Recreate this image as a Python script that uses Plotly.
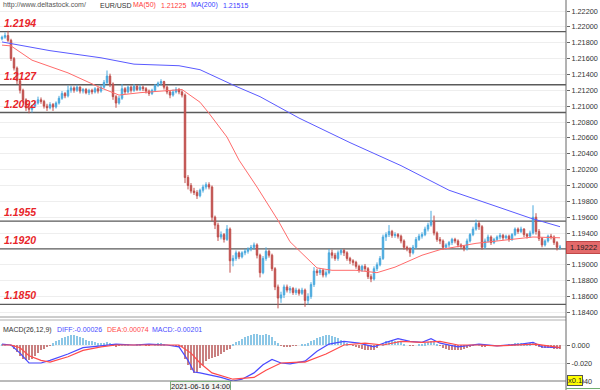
import plotly.graph_objects as go

# ---------------- data ----------------
first_open = 1.2185
closes = [
    1.2187, 1.2189, 1.2183, 1.2160, 1.2148, 1.2132, 1.2120, 1.2108, 1.2098, 1.2096,
    1.2100, 1.2104, 1.2108, 1.2106, 1.2100, 1.2098, 1.2102, 1.2099, 1.2104, 1.2110,
    1.2116, 1.2113, 1.2120, 1.2123, 1.2120, 1.2124, 1.2119, 1.2121, 1.2117, 1.2120,
    1.2118, 1.2122, 1.2119, 1.2124, 1.2130, 1.2138, 1.2128, 1.2112, 1.2104, 1.2110,
    1.2122, 1.2118, 1.2124, 1.2120, 1.2125, 1.2121, 1.2124, 1.2122, 1.2119, 1.2116,
    1.2120, 1.2126, 1.2129, 1.2131, 1.2124, 1.2118, 1.2114, 1.2118, 1.2121, 1.2118,
    1.2114, 1.2010, 1.2000, 1.1993, 1.1991, 1.1987, 1.1994, 1.1998, 1.2001, 1.1998,
    1.1960, 1.1950, 1.1935, 1.1938, 1.1932, 1.1945, 1.1905, 1.1908, 1.1915, 1.1910,
    1.1915, 1.1917, 1.1920, 1.1922, 1.1925, 1.1912, 1.1890, 1.1908, 1.1917, 1.1912,
    1.1895, 1.1872, 1.1858, 1.1862, 1.1872, 1.1868, 1.1870, 1.1865, 1.1868, 1.1864,
    1.1868, 1.1855, 1.1860, 1.1875, 1.1892, 1.1890, 1.1893, 1.1887, 1.1890, 1.1915,
    1.1912, 1.1908, 1.1915, 1.1918, 1.1915, 1.1908, 1.1905, 1.1903, 1.1898, 1.1893,
    1.1898, 1.1895, 1.1885, 1.1882, 1.1895, 1.1900, 1.1908, 1.1935, 1.1938, 1.1942,
    1.1937, 1.1938, 1.1936, 1.1930, 1.1922, 1.1920, 1.1915, 1.1922, 1.1932, 1.1936,
    1.1938, 1.1945, 1.1950, 1.1955, 1.1940, 1.1932, 1.1930, 1.1922, 1.1925, 1.1928,
    1.1932, 1.1930, 1.1925, 1.1923, 1.1920, 1.1930, 1.1938, 1.1945, 1.1952, 1.1948,
    1.1922, 1.1930, 1.1935, 1.1928, 1.1932, 1.1935, 1.1937, 1.1934, 1.1936, 1.1932,
    1.1938, 1.1945, 1.1942, 1.1945, 1.1938, 1.1936, 1.1940, 1.1960, 1.1942, 1.1933,
    1.1925, 1.1930, 1.1936, 1.1935, 1.1928, 1.1922, 1.19222,
]
highs = [
    1.2189, 1.2193, 1.2195, 1.2185, 1.2162, 1.2150, 1.2134, 1.2122, 1.2110, 1.2101,
    1.2102, 1.2106, 1.2112, 1.2111, 1.2108, 1.2103, 1.2105, 1.2104, 1.2106, 1.2113,
    1.2119, 1.2118, 1.2126, 1.2126, 1.2125, 1.2127, 1.2125, 1.2123, 1.2123, 1.2122,
    1.2122, 1.2124, 1.2124, 1.2127, 1.2133, 1.2145, 1.2141, 1.2130, 1.2114, 1.2113,
    1.2128, 1.2124, 1.2126, 1.2126, 1.2128, 1.2127, 1.2127, 1.2126, 1.2124, 1.2121,
    1.2122, 1.2128, 1.2131, 1.2134, 1.2132, 1.2126, 1.2120, 1.2121, 1.2124, 1.2123,
    1.2120, 1.2116, 1.2013, 1.2003, 1.1997, 1.1994, 1.1996, 1.2001, 1.2004, 1.2004,
    1.2000, 1.1962, 1.1953, 1.1942, 1.1940, 1.1950, 1.1947, 1.1912, 1.1918, 1.1917,
    1.1917, 1.1920, 1.1922, 1.1925, 1.1928, 1.1927, 1.1914, 1.1911, 1.1922, 1.1919,
    1.1914, 1.1897, 1.1875, 1.1866, 1.1875, 1.1875, 1.1873, 1.1872, 1.1871, 1.1870,
    1.1871, 1.1870, 1.1864, 1.1878, 1.1897, 1.1895, 1.1896, 1.1895, 1.1893, 1.1920,
    1.1919, 1.1915, 1.1918, 1.1920, 1.1920, 1.1917, 1.1910, 1.1907, 1.1905, 1.1900,
    1.1900, 1.1901, 1.1897, 1.1888, 1.1898, 1.1903, 1.1911, 1.1938, 1.1941, 1.1950,
    1.1944, 1.1941, 1.1940, 1.1938, 1.1932, 1.1924, 1.1922, 1.1925, 1.1935, 1.1939,
    1.1941, 1.1948, 1.1953, 1.1968, 1.1962, 1.1942, 1.1935, 1.1932, 1.1927, 1.1930,
    1.1934, 1.1934, 1.1932, 1.1927, 1.1925, 1.1933, 1.1940, 1.1948, 1.1957, 1.1955,
    1.1950, 1.1933, 1.1938, 1.1937, 1.1934, 1.1937, 1.1940, 1.1939, 1.1938, 1.1938,
    1.1940, 1.1947, 1.1947, 1.1948, 1.1946, 1.1940, 1.1943, 1.1975, 1.1965, 1.1945,
    1.1935, 1.1932, 1.1938, 1.1939, 1.1937, 1.1930, 1.1925,
]
lows = [
    1.2183, 1.2185, 1.2181, 1.2157, 1.2145, 1.2128, 1.2116, 1.2104, 1.2094, 1.2091,
    1.2092, 1.2098, 1.2102, 1.2103, 1.2097, 1.2094, 1.2096, 1.2094, 1.2097, 1.2102,
    1.2108, 1.2110, 1.2111, 1.2117, 1.2117, 1.2118, 1.2116, 1.2116, 1.2115, 1.2114,
    1.2115, 1.2116, 1.2116, 1.2117, 1.2122, 1.2128, 1.2124, 1.2108, 1.2098, 1.2102,
    1.2108, 1.2115, 1.2116, 1.2117, 1.2118, 1.2119, 1.2119, 1.2119, 1.2116, 1.2113,
    1.2114, 1.2118, 1.2124, 1.2126, 1.2121, 1.2115, 1.2110, 1.2112, 1.2116, 1.2115,
    1.2111, 1.2003, 1.1995, 1.1990, 1.1988, 1.1983, 1.1985, 1.1991, 1.1995, 1.1995,
    1.1955, 1.1945, 1.1930, 1.1932, 1.1928, 1.1930, 1.1890, 1.1898, 1.1905, 1.1907,
    1.1908, 1.1912, 1.1914, 1.1917, 1.1919, 1.1908, 1.1884, 1.1888, 1.1905, 1.1909,
    1.1892, 1.1868, 1.1845, 1.1852, 1.1858, 1.1865, 1.1864, 1.1862, 1.1862, 1.1861,
    1.1862, 1.1847, 1.1850, 1.1857, 1.1872, 1.1886, 1.1887, 1.1884, 1.1884, 1.1888,
    1.1908, 1.1905, 1.1905, 1.1912, 1.1911, 1.1905, 1.1901, 1.1899, 1.1895, 1.1890,
    1.1891, 1.1892, 1.1882, 1.1878, 1.1880, 1.1892, 1.1898, 1.1906, 1.1930, 1.1935,
    1.1934, 1.1934, 1.1933, 1.1927, 1.1919, 1.1917, 1.1910, 1.1913, 1.1920, 1.1930,
    1.1933, 1.1936, 1.1942, 1.1948, 1.1937, 1.1929, 1.1926, 1.1919, 1.1919, 1.1922,
    1.1925, 1.1927, 1.1922, 1.1920, 1.1917, 1.1918, 1.1928, 1.1936, 1.1943, 1.1944,
    1.1919, 1.1920, 1.1928, 1.1925, 1.1926, 1.1930, 1.1932, 1.1931, 1.1932, 1.1929,
    1.1930, 1.1936, 1.1939, 1.1940, 1.1935, 1.1933, 1.1934, 1.1938, 1.1938, 1.1930,
    1.1922, 1.1923, 1.1928, 1.1932, 1.1925, 1.1918, 1.1919,
]

ma50_idx = [0, 3, 10, 22, 33, 39, 46, 53, 60, 66, 69, 75, 79, 85, 92, 96, 101,
            105, 110, 118, 125, 131, 140, 146, 158, 168, 177, 186]
ma50_val = [1.2177, 1.2176, 1.2158, 1.2142, 1.2123, 1.2114, 1.2117, 1.2119,
            1.2121, 1.2105, 1.2091, 1.2061, 1.2032, 1.1998, 1.1956, 1.1929,
            1.1910, 1.1896, 1.1893, 1.1893, 1.1890, 1.1897, 1.1912, 1.1919,
            1.1927, 1.1931, 1.1935, 1.1934]
ma200_idx = [0, 16, 33, 44, 59, 66, 78, 86, 99, 116, 133, 149, 166, 176, 186]
ma200_val = [1.2181, 1.2170, 1.2161, 1.2153, 1.2151, 1.2146, 1.2125, 1.2112,
             1.2085, 1.2054, 1.2025, 1.1994, 1.1972, 1.1959, 1.1948]

# MACD panel (values as displayed on its axis, x0.1)
diff_idx = [0, 3, 6, 9, 13, 16, 22, 27, 33, 38, 44, 49, 55, 59, 62, 64, 66, 69,
            73, 77, 80, 84, 87, 90, 93, 96, 99, 101, 105, 109, 114, 119, 124,
            128, 132, 136, 140, 143, 146, 152, 159, 165, 173, 177, 180, 186]
diff_val = [0.001, 0.000, -0.009, -0.020, -0.020, -0.017, -0.010, -0.003, -0.001,
            0.001, 0.000, 0.001, 0.000, -0.002, -0.017, -0.030, -0.031, -0.033,
            -0.036, -0.040, -0.038, -0.031, -0.022, -0.016, -0.020, -0.021, -0.019,
            -0.018, -0.007, 0.001, 0.004, 0.002, -0.002, 0.003, 0.007, 0.004,
            0.003, 0.007, 0.002, -0.002, 0.001, -0.001, 0.001, 0.003, -0.002,
            -0.003]
dea_idx = [0, 3, 6, 9, 13, 16, 22, 27, 33, 38, 59, 63, 66, 70, 77, 84, 88, 93,
           99, 101, 108, 114, 121, 127, 133, 140, 146, 152, 159, 165, 178, 186]
dea_val = [0.000, 0.000, -0.003, -0.012, -0.017, -0.019, -0.013, -0.006, -0.002,
           0.000, 0.000, -0.009, -0.020, -0.031, -0.038, -0.036, -0.028, -0.020,
           -0.019, -0.019, -0.010, 0.000, 0.002, 0.000, 0.004, 0.003, 0.004,
           0.000, 0.000, -0.001, 0.001, -0.003]
macd_bars = [
    0.001, 0.001, 0.000,
    -0.001, -0.004, -0.008, -0.012, -0.015, -0.017, -0.017, -0.015, -0.012, -0.009,
    -0.006, -0.004, -0.002, -0.001,
    0.002, 0.004, 0.006, 0.008, 0.009, 0.010, 0.011, 0.011, 0.010, 0.009, 0.008,
    0.006, 0.005, 0.004, 0.003, 0.002,
    0.002, 0.002, 0.003, 0.002, -0.001, -0.002, -0.001, 0.001, 0.001, 0.001, 0.000,
    0.000, 0.001, 0.001, 0.000, -0.001, -0.001, 0.000, 0.001, 0.002, 0.002, 0.001,
    0.000, -0.001, -0.001, -0.001, -0.002,
    -0.002, -0.015, -0.022, -0.028, -0.031, -0.030, -0.026, -0.022, -0.018, -0.015,
    -0.014, -0.013, -0.012, -0.010, -0.008, -0.005, -0.004,
    0.001, 0.003, 0.005, 0.007, 0.009, 0.010, 0.011, 0.012, 0.012, 0.011, 0.011,
    0.012, 0.011, 0.009, 0.005, 0.002,
    -0.001, -0.002, -0.002, -0.002, -0.001, -0.001,
    0.000, 0.001, 0.001, 0.002, 0.004, 0.006, 0.008, 0.009, 0.010, 0.011, 0.011,
    0.010, 0.009, 0.008, 0.006, 0.004, 0.002,
    0.000, -0.001, -0.002, -0.003, -0.004, -0.005, -0.006, -0.006, -0.005, -0.003,
    0.000, 0.002, 0.004, 0.005, 0.005, 0.004, 0.004, 0.003, 0.001, 0.000,
    -0.001, -0.001, 0.000, 0.001, 0.001, 0.002, 0.003,
    0.004, 0.003, 0.001,
    -0.001, -0.003, -0.004, -0.005, -0.006, -0.006, -0.005, -0.005, -0.004, -0.003,
    -0.002, -0.001, 0.000,
    0.001, -0.002, -0.002, -0.001, -0.001, -0.001, 0.000, 0.000, -0.001, 0.000,
    0.001, 0.001, 0.002, 0.002, 0.002, 0.001, 0.001, 0.002, 0.003,
    -0.001, -0.002, -0.003, -0.003, -0.003, -0.003, -0.004, -0.004, -0.004,
]

levels = [1.2194, 1.2127, 1.2092, 1.1955, 1.1920, 1.1850]
level_labels = ["1.2194", "1.2127", "1.2092", "1.1955", "1.1920", "1.1850"]

# the 1.19200 label is hidden behind the last-price box in the reference
price_ticks = [1.184, 1.186, 1.188, 1.190, 1.194, 1.196, 1.198, 1.200,
               1.202, 1.204, 1.206, 1.208, 1.210, 1.212, 1.214, 1.216, 1.218,
               1.220, 1.222]
macd_ticks = [0.0, -0.02, -0.04]
macd_tick_labels = ["0.000", "-0.020", "-0.040"]
last_price = 1.19222
date_label = "2021-06-16 14:00"

# ---------------- figure ----------------
opens = [first_open] + closes[:-1]
idx = list(range(len(closes)))

W, H = 600, 390
PR = 566  # right edge of plotting area in px


def py(p):
    return 1 - p / H


def px(p):
    return p / PR


UP = "#4aa9de"
DN = "#c0504d"

fig = go.Figure()

fig.add_trace(go.Bar(x=idx, y=macd_bars, width=0.4,
                     marker=dict(color=["#8cc7e6" if v >= 0 else "#c98080" for v in macd_bars],
                                 line=dict(width=0)),
                     xaxis="x", yaxis="y2", showlegend=False, hoverinfo="skip"))
fig.add_trace(go.Scatter(x=diff_idx, y=diff_val, mode="lines",
                         line=dict(color="#4a4aff", width=1.2),
                         xaxis="x", yaxis="y2", showlegend=False, hoverinfo="skip"))
fig.add_trace(go.Scatter(x=dea_idx, y=dea_val, mode="lines",
                         line=dict(color="#ff4a4a", width=1.2),
                         xaxis="x", yaxis="y2", showlegend=False, hoverinfo="skip"))

fig.add_trace(go.Candlestick(
    x=idx, open=opens, high=highs, low=lows, close=closes,
    increasing=dict(line=dict(color=UP, width=1), fillcolor=UP),
    decreasing=dict(line=dict(color=DN, width=1), fillcolor=DN),
    whiskerwidth=0, xaxis="x", yaxis="y", showlegend=False, hoverinfo="skip"))

fig.add_trace(go.Scatter(x=ma50_idx, y=ma50_val, mode="lines",
                         line=dict(color="#ff6b6b", width=1),
                         xaxis="x", yaxis="y", showlegend=False, hoverinfo="skip"))
fig.add_trace(go.Scatter(x=ma200_idx, y=ma200_val, mode="lines",
                         line=dict(color="#5a5aff", width=1),
                         xaxis="x", yaxis="y", showlegend=False, hoverinfo="skip"))

shapes = []
for lv in levels:
    shapes.append(dict(type="line", xref="paper", yref="y", x0=0, x1=1, y0=lv, y1=lv,
                       line=dict(color="#5a5a5a", width=1.3), layer="below"))
for yy, col in [(317, "#9a9a9a"), (320, "#b0b0b0"), (381, "#777777")]:
    shapes.append(dict(type="line", xref="paper", yref="paper", x0=0, x1=1,
                       y0=py(yy), y1=py(yy), line=dict(color=col, width=1)))
shapes.append(dict(type="line", xref="paper", yref="paper", x0=1, x1=1,
                   y0=py(390), y1=1, line=dict(color="#666666", width=1)))
shapes.append(dict(type="line", xref="paper", yref="paper", x0=1, x1=W / PR,
                   y0=py(388.5), y1=py(388.5), line=dict(color="#6fae6f", width=1)))

ann = []
FONT = "Liberation Sans"
for lv, lab in zip(levels, level_labels):
    ann.append(dict(x=px(2), xref="paper", y=lv, yref="y", text="<b><i>" + lab + "</i></b>",
                    showarrow=False, xanchor="left", yanchor="bottom", yshift=1,
                    font=dict(family=FONT, size=10.5, color="#e8252a")))

header = [("http://www.deltastock.com/", 2, "#555555"), ("EUR/USD", 99, "#333333"),
          ("MA(50)", 132, "#ff3b3b"), ("1.21225", 160, "#ff3b3b"),
          ("MA(200)", 190, "#3b3bff"), ("1.21515", 222, "#3b3bff")]
for t, x0, c in header:
    ann.append(dict(x=px(x0), xref="paper", y=py(5.5), yref="paper", text=t,
                    showarrow=False, xanchor="left", yanchor="middle", borderpad=0,
                    font=dict(family=FONT, size=7, color=c)))

macd_hdr = [("MACD(26,12,9)", 2, "#333333"), ("DIFF:-0.00026", 56, "#4a4aff"),
            ("DEA:0.00074", 106, "#ff4a4a"), ("MACD:-0.00201", 151, "#4a4aff")]
for t, x0, c in macd_hdr:
    ann.append(dict(x=px(x0), xref="paper", y=py(329.5), yref="paper", text=t,
                    showarrow=False, xanchor="left", yanchor="middle", borderpad=0,
                    font=dict(family=FONT, size=7, color=c)))

ann.append(dict(x=1, xref="paper", y=last_price, yref="y", text="%.5f" % last_price,
                showarrow=False, xanchor="left", yanchor="middle",
                bgcolor="#e36a6a", bordercolor="#c04848", borderwidth=1, borderpad=1,
                width=31, font=dict(family=FONT, size=7.5, color="#222222")))
ann.append(dict(x=px(567), xref="paper", y=py(380), yref="paper", text="x0.1",
                showarrow=False, xanchor="left", yanchor="middle",
                bgcolor="#ffff00", bordercolor="#555555", borderwidth=1, borderpad=0,
                font=dict(family=FONT, size=7.5, color="#222222")))
ann.append(dict(x=px(170), xref="paper", y=py(386), yref="paper", text=date_label,
                showarrow=False, xanchor="left", yanchor="middle",
                bgcolor="#f3f3f3", bordercolor="#7fae7f", borderwidth=1, borderpad=0,
                font=dict(family=FONT, size=7.5, color="#222222")))

fig.update_layout(
    width=W, height=H, margin=dict(l=0, r=W - PR, t=0, b=0, autoexpand=False),
    paper_bgcolor="white", plot_bgcolor="white", bargap=0,
    xaxis=dict(range=[-0.67, 188], visible=False, rangeslider=dict(visible=False),
               anchor="y", automargin=False),
    yaxis=dict(domain=[py(317), 1], range=[1.18341, 1.22339], side="right",
               tickvals=price_ticks, ticktext=["%.5f" % t for t in price_ticks],
               ticks="outside", ticklen=3, tickcolor="#666666",
               showgrid=True, gridcolor="#eeeeee", gridwidth=1, zeroline=False,
               tickfont=dict(family=FONT, size=7.3, color="#333333"),
               showline=False, anchor="x", automargin=False),
    yaxis2=dict(domain=[py(381), py(320)], range=[-0.040, 0.0278], side="right",
                tickvals=macd_ticks, ticktext=macd_tick_labels,
                ticks="outside", ticklen=3, tickcolor="#666666",
                showgrid=True, gridcolor="#eeeeee", zeroline=False,
                tickfont=dict(family=FONT, size=7.3, color="#333333"),
                showline=False, anchor="x", automargin=False),
    shapes=shapes, annotations=ann,
)

fig.write_html("out.html", config={"displayModeBar": False},
               post_script="document.body.style.margin='0';document.body.style.padding='0';")
